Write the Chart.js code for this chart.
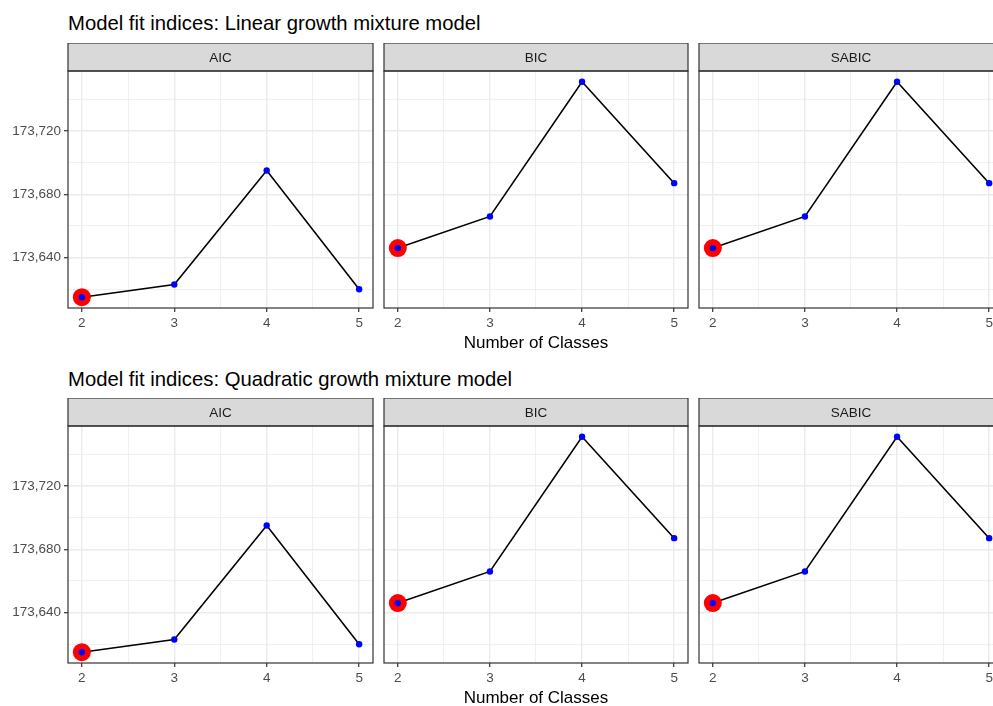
<!DOCTYPE html>
<html>
<head>
<meta charset="utf-8">
<script src="https://cdn.jsdelivr.net/npm/chart.js@4.4.0/dist/chart.umd.min.js"></script>
<style>
  html, body { margin: 0; padding: 0; background: #fff; overflow: hidden; }
  #page { position: relative; width: 993px; height: 706px; overflow: hidden; background: #fff; }
  #page canvas { position: absolute; }
  .row-title { position: absolute; left: 68px; font: 20.3px "Liberation Sans", Arial, sans-serif; line-height: 20px; color: #000; white-space: nowrap; }
</style>
</head>
<body>
<div id="page"></div>
<script>
// Number of latent classes on the x axis
const classes = [2, 3, 4, 5];

// Facet labels and row titles
const indexNames = ['AIC', 'BIC', 'SABIC'];
const rowTitles = [
  'Model fit indices: Linear growth mixture model',
  'Model fit indices: Quadratic growth mixture model'
];
const xAxisTitle = 'Number of Classes';

// Fit index values per number of classes
const linearAIC   = [173615, 173623, 173695, 173620];
const linearBIC   = [173646, 173666, 173751, 173687];
const linearSABIC = [173646, 173666, 173751, 173687];
const quadAIC     = [173615, 173623, 173695, 173620];
const quadBIC     = [173646, 173666, 173751, 173687];
const quadSABIC   = [173646, 173666, 173751, 173687];

// Axis ticks (majors carry labels, minors only grid lines)
const xMajorTicks = [2, 3, 4, 5];
const xMinorTicks = [2.5, 3.5, 4.5];
const yMajorTicks = [173640, 173680, 173720];
const yMinorTicks = [173620, 173660, 173700, 173740];

const rows = [
  [linearAIC, linearBIC, linearSABIC],
  [quadAIC, quadBIC, quadSABIC]
];

// Geometry of the facet grid
const FONT = '"Liberation Sans", Arial, sans-serif';
const ROW_TOP = [43, 398];
const TITLE_TOP = [13.4, 368.6];
const STRIP_H = 28;
const PLOT_H = 237;
const PANEL_LEFT = [68, 383, 698];
const PANEL_W = 306;
const PAD = 8;
const Y_AXIS_W = 68;
const X_AXIS_H = 30;
const X_AXIS_H_TITLE = 46;

const page = document.getElementById('page');

// Strip header and panel border around each facet
const facetFrame = {
  id: 'facetFrame',
  afterDraw(chart, args, opts) {
    const { ctx, chartArea: a } = chart;
    const w = a.right - a.left;
    ctx.save();
    ctx.fillStyle = '#D9D9D9';
    ctx.fillRect(a.left, a.top - STRIP_H, w, STRIP_H);
    ctx.strokeStyle = '#333333';
    ctx.lineWidth = 1.2;
    ctx.strokeRect(a.left, a.top - STRIP_H, w, STRIP_H);
    ctx.strokeRect(a.left, a.top, w, a.bottom - a.top);
    ctx.fillStyle = '#1A1A1A';
    ctx.font = '13.5px ' + FONT;
    ctx.textAlign = 'center';
    ctx.textBaseline = 'middle';
    ctx.fillText(opts.label, (a.left + a.right) / 2, a.top - STRIP_H / 2 + 1);
    ctx.restore();
  }
};

function expand(lo, hi) {
  const d = (hi - lo) * 0.05;
  return [lo - d, hi + d];
}

function makePanel(r, c) {
  const vals = rows[r][c];
  const all = rows[r].flat();
  const [yMin, yMax] = expand(Math.min(...all), Math.max(...all));
  const [xMin, xMax] = expand(Math.min(...classes), Math.max(...classes));
  const xh = c === 1 ? X_AXIS_H_TITLE : X_AXIS_H;

  const canvas = document.createElement('canvas');
  const leftSpace = c === 0 ? Y_AXIS_W : PAD;
  const cw = leftSpace + PANEL_W + PAD;
  const ch = STRIP_H + PLOT_H + xh;
  canvas.width = cw;
  canvas.height = ch;
  canvas.style.width = cw + 'px';
  canvas.style.height = ch + 'px';
  canvas.style.left = (PANEL_LEFT[c] - leftSpace) + 'px';
  canvas.style.top = ROW_TOP[r] + 'px';
  page.appendChild(canvas);

  const pts = classes.map((k, i) => ({ x: k, y: vals[i] }));
  const iMin = vals.indexOf(Math.min(...vals));

  const isMajorX = v => xMajorTicks.includes(v);
  const isMajorY = v => yMajorTicks.includes(v);

  new Chart(canvas, {
    type: 'scatter',
    data: {
      datasets: [
        { data: pts, showLine: true, borderColor: '#000000', borderWidth: 1.6, pointRadius: 0, order: 2 },
        { data: [pts[iMin]], showLine: false, pointRadius: 9, backgroundColor: '#FF0000', borderWidth: 0, order: 1 },
        { data: pts, showLine: false, pointRadius: 3.2, backgroundColor: '#0000FF', borderWidth: 0, order: 0 }
      ]
    },
    options: {
      responsive: false,
      animation: false,
      events: [],
      devicePixelRatio: 1,
      layout: { padding: { top: STRIP_H, left: c === 0 ? 0 : PAD, right: PAD, bottom: 0 } },
      plugins: {
        legend: { display: false },
        tooltip: { enabled: false },
        facetFrame: { label: indexNames[c] }
      },
      scales: {
        x: {
          type: 'linear',
          min: xMin,
          max: xMax,
          afterBuildTicks: s => {
            s.ticks = [...xMajorTicks, ...xMinorTicks].sort((a, b) => a - b).map(v => ({ value: v }));
          },
          afterFit: s => { s.height = xh; s.paddingLeft = 0; s.paddingRight = 0; },
          border: { display: false },
          grid: {
            color: '#EBEBEB',
            lineWidth: ctx => (ctx.tick && isMajorX(ctx.tick.value)) ? 1.4 : 0.7,
            tickColor: ctx => (ctx.tick && isMajorX(ctx.tick.value)) ? '#333333' : 'rgba(0,0,0,0)',
            tickLength: 4,
            tickWidth: 1.2
          },
          ticks: {
            color: '#4D4D4D',
            font: { family: FONT, size: 13.5 },
            padding: 3,
            maxRotation: 0,
            autoSkip: false,
            callback: v => isMajorX(v) ? String(v) : ''
          },
          title: {
            display: c === 1,
            text: xAxisTitle,
            color: '#000000',
            font: { family: FONT, size: 17 },
            padding: { top: 0, bottom: 0 }
          }
        },
        y: {
          type: 'linear',
          min: yMin,
          max: yMax,
          afterBuildTicks: s => {
            s.ticks = [...yMajorTicks, ...yMinorTicks].sort((a, b) => a - b).map(v => ({ value: v }));
          },
          afterFit: s => { s.width = c === 0 ? Y_AXIS_W : 0; s.paddingTop = 0; s.paddingBottom = 0; },
          border: { display: false },
          grid: {
            color: '#EBEBEB',
            lineWidth: ctx => (ctx.tick && isMajorY(ctx.tick.value)) ? 1.4 : 0.7,
            tickColor: ctx => (ctx.tick && isMajorY(ctx.tick.value)) ? '#333333' : 'rgba(0,0,0,0)',
            drawTicks: c === 0,
            tickLength: c === 0 ? 4 : 0,
            tickWidth: 1.2
          },
          ticks: {
            display: c === 0,
            color: '#4D4D4D',
            font: { family: FONT, size: 13.5 },
            padding: 3,
            autoSkip: false,
            callback: v => isMajorY(v) ? v.toLocaleString('en-US') : ''
          }
        }
      }
    },
    plugins: [facetFrame]
  });
}

rowTitles.forEach((t, r) => {
  const d = document.createElement('div');
  d.className = 'row-title';
  d.style.top = TITLE_TOP[r] + 'px';
  d.textContent = t;
  page.appendChild(d);
  for (let c = 0; c < indexNames.length; c++) makePanel(r, c);
});
</script>
</body>
</html>
